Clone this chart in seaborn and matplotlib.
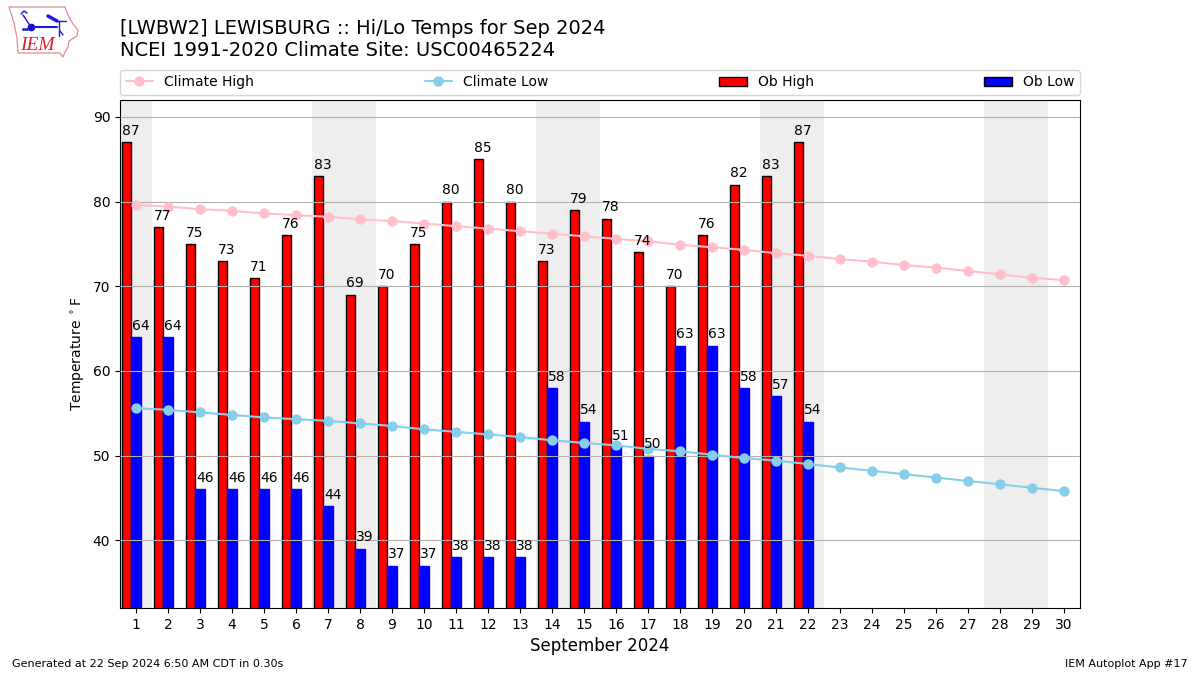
"""
Hi/Lo temps for Sep 2024 at LWBW2, IEM autoplot 17 look.
"""

import numpy as np
import matplotlib
matplotlib.use("Agg")
import matplotlib.pyplot as plt
from matplotlib.patches import Polygon
import seaborn as sns

# ── Data ─────────────────────────────────────────────────────
days = np.arange(1, 31)
weekend_days = [1, 7, 8, 14, 15, 21, 22, 28, 29]
climate_high = [79.6, 79.4, 79.1, 78.9, 78.6, 78.4, 78.2, 77.9, 77.7, 77.4,
                77.1, 76.8, 76.5, 76.2, 75.9, 75.6, 75.3, 74.9, 74.6, 74.3,
                73.9, 73.6, 73.2, 72.9, 72.5, 72.2, 71.8, 71.4, 71.0, 70.7]
climate_low = [55.6, 55.4, 55.1, 54.8, 54.5, 54.3, 54.1, 53.8, 53.5, 53.1,
               52.8, 52.5, 52.2, 51.8, 51.5, 51.2, 50.8, 50.5, 50.1, 49.7,
               49.4, 49.0, 48.6, 48.2, 47.8, 47.4, 47.0, 46.6, 46.2, 45.8]
ob_high = [87, 77, 75, 73, 71, 76, 83, 69, 70, 75, 80,
           85, 80, 73, 79, 78, 74, 70, 76, 82, 83, 87]
ob_low = [64, 64, 46, 46, 46, 46, 44, 39, 37, 37, 38,
          38, 38, 58, 54, 51, 50, 63, 63, 58, 57, 54]
y_ticks = [40, 50, 60, 70, 80, 90]

# ── Figure ───────────────────────────────────────────────────
sns.set_style("white")
plt.rcParams["font.family"] = ["DejaVu Sans"]
plt.rcParams["text.color"] = "black"
plt.rcParams["axes.labelcolor"] = "black"
plt.rcParams["xtick.color"] = "black"
plt.rcParams["ytick.color"] = "black"

fig = plt.figure(figsize=(12, 6.75), dpi=100)
ax = fig.add_axes([0.1, 0.0993, 0.8, 0.7526])

for day in weekend_days:
    ax.axvspan(day - 0.5, day + 0.5, color="#eeeeee", lw=0, zorder=0)

obs_x = days[:len(ob_high)]
sns.barplot(x=obs_x - 0.3, y=ob_high, native_scale=True, width=0.3, color="red",
            saturation=1, edgecolor="k", linewidth=1, label="Ob High",
            ax=ax, zorder=2)
sns.barplot(x=obs_x * 1.0, y=ob_low, native_scale=True, width=0.3, color="blue",
            saturation=1, edgecolor="blue", linewidth=1, label="Ob Low",
            ax=ax, zorder=2)
sns.lineplot(x=days, y=climate_high, color="pink", marker="o", markersize=7.5,
             markeredgewidth=0, linewidth=1.5, label="Climate High", ax=ax, zorder=3)
sns.lineplot(x=days, y=climate_low, color="skyblue", marker="o", markersize=7.5,
             markeredgewidth=0, linewidth=1.5, label="Climate Low", ax=ax, zorder=3)

for x, val in zip(obs_x, ob_high):
    ax.text(x - 0.43, val + 0.5, str(val), ha="left", va="bottom", fontsize=10, zorder=4)
for x, val in zip(obs_x, ob_low):
    ax.text(x - 0.13, val + 0.5, str(val), ha="left", va="bottom", fontsize=10, zorder=4)

ax.set_xlim(0.5, 30.5)
ax.set_ylim(32, 92)
ax.set_xticks(days)
ax.set_xticklabels([str(d) for d in days])
ax.set_yticks(y_ticks)
ax.tick_params(axis="both", length=3.5, width=0.8, labelsize=10, bottom=True, left=True)
# grid runs over the bars in the original, under the lines
ax.yaxis.grid(True, color="#b0b0b0", lw=0.8)
ax.xaxis.grid(False)
ax.set_axisbelow(False)
for spine in ax.spines.values():
    spine.set_visible(True)
    spine.set_color("black")
    spine.set_linewidth(0.8)
ax.set_xlabel("September 2024", fontsize=12)
ax.set_ylabel("Temperature $^\\circ$F", fontsize=10)

handles, labels = ax.get_legend_handles_labels()
order = [labels.index(n) for n in ["Climate High", "Climate Low", "Ob High", "Ob Low"]]
leg = ax.legend([handles[i] for i in order], [labels[i] for i in order], ncol=4,
                mode="expand", loc="lower left", bbox_to_anchor=(0, 1.01, 1, 0.05),
                borderaxespad=0, fontsize=10, frameon=True)
leg.get_patches()[-1].set_edgecolor("k")

# ── Titles / footers ─────────────────────────────────────────
fig.text(0.1, 0.9435, "[LWBW2] LEWISBURG :: Hi/Lo Temps for Sep 2024",
         fontsize=14, va="bottom")
fig.text(0.1, 0.9105, "NCEI 1991-2020 Climate Site: USC00465224",
         fontsize=14, va="bottom")
fig.text(0.01, 0.0118, "Generated at 22 Sep 2024 6:50 AM CDT in 0.30s", fontsize=8)
fig.text(0.99, 0.0118, "IEM Autoplot App #17", fontsize=8, ha="right")

# ── Logo, Iowa outline in pixel space ────────────────────────
logo = fig.add_axes([0, 0.9, 0.08, 0.1])
logo.set_xlim(0, 96)
logo.set_ylim(67.5, 0)
logo.axis("off")
outline = [(9, 7), (65, 7), (68, 15), (73, 24), (78, 30), (77, 36), (69, 41),
           (68, 47), (65, 52), (63, 57), (60, 53), (18, 53), (17, 38), (14, 23)]
logo.add_patch(Polygon(outline, closed=True, fc="white", ec="#e58a8f", lw=0.9))
logo.plot([31, 57], [27, 27], color="#1a1ae0", lw=1.5)
logo.plot([31], [27], "o", color="#1010c8", ms=4.5)
logo.plot([23, 31], [15, 27], color="#1a1ae0", lw=1)
logo.plot([21, 24, 27], [14, 11, 13], color="#1a1ae0", lw=1)
logo.plot([48, 57], [16, 21], color="#1a1ae0", lw=2.5)
logo.plot([57, 66], [21, 21], color="#1a1ae0", lw=1)
logo.plot([59, 59], [21, 36], color="#1a1ae0", lw=1)
logo.plot([60, 63], [31, 35], color="#1a1ae0", lw=1)
logo.plot([23, 25, 27], [29, 29, 29], ".", color="#1a1ae0", ms=2)
logo.text(37, 45, "IEM", color="#d8202a", fontsize=14, family="Liberation Serif",
          style="italic", ha="center", va="center")

fig.savefig("out.png", dpi=100)
